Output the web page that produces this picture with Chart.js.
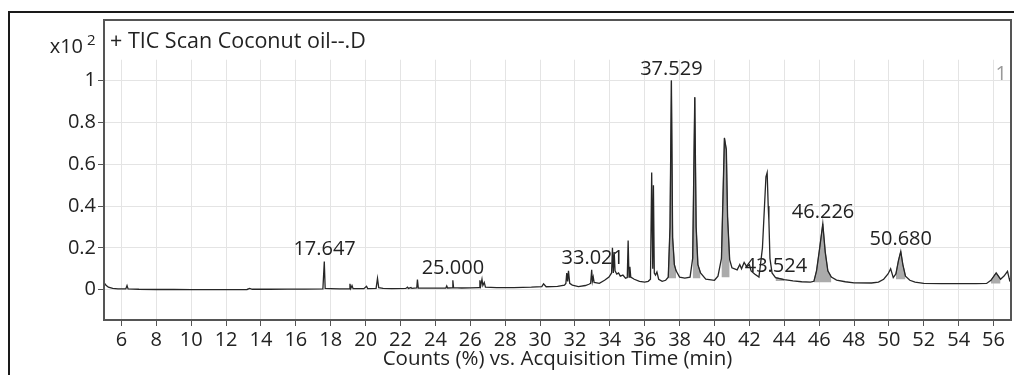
<!DOCTYPE html>
<html>
  <head>
    <meta charset="utf-8" />
    <title>TIC Scan Coconut oil</title>
    <script src="https://cdn.jsdelivr.net/npm/chart.js@4/dist/chart.umd.min.js"></script>
    <style>
      body { margin: 0; background: #fff; }
      #wrap { width: 1014px; height: 375px; }
    </style>
  </head>

  <body>
    <div id="wrap"><canvas id="tic" width="1014" height="375"></canvas></div>

    <script>
      // retention time (min)
      var times = [
        5.0, 5.1, 5.25, 5.5, 5.8, 6.25, 6.32, 6.38, 7.0, 8.0, 9.0, 10.0, 11.0, 12.0,
        13.2, 13.35, 13.5, 14.5, 15.5, 16.5, 17.55, 17.63, 17.68, 18.0, 18.5,
        19.05, 19.1, 19.15, 19.22, 19.28, 19.9, 20.05, 20.12, 20.6, 20.68, 20.75,
        21.0, 21.5, 22.3, 22.4, 22.45, 22.6, 22.65, 22.93, 22.97, 23.02, 23.5,
        24.0, 24.6, 24.65, 24.7, 24.97, 25.0, 25.04, 25.5, 26.0, 26.5, 26.55,
        26.6, 26.67, 26.72, 26.8, 26.87, 27.5, 28.5, 29.5, 30.1, 30.2, 30.35,
        31.0, 31.4, 31.48, 31.53, 31.58, 31.63, 31.7, 31.85, 32.2, 32.6, 32.8,
        32.9, 32.96, 33.0, 33.05, 33.1, 33.4, 33.7, 33.95, 34.1, 34.15, 34.2,
        34.25, 34.3, 34.4, 34.5, 34.6, 34.75, 34.9, 35.0, 35.05, 35.1, 35.15,
        35.2, 35.4, 35.7, 36.0, 36.2, 36.33, 36.4, 36.46, 36.5, 36.55, 36.62,
        36.7, 36.8, 37.0, 37.2, 37.35, 37.45, 37.53, 37.6, 37.7, 37.8, 38.0,
        38.3, 38.6, 38.75, 38.87, 38.95, 39.05, 39.2, 39.5, 40.0, 40.2, 40.4,
        40.57, 40.62, 40.68, 40.75, 40.87, 41.0, 41.3, 41.45, 41.55, 41.7, 41.85,
        42.0, 42.1, 42.3, 42.55, 42.75, 42.95, 43.02, 43.08, 43.12, 43.18, 43.3,
        43.5, 44.0, 44.5, 45.0, 45.5, 45.7, 45.85, 46.0, 46.21, 46.35, 46.5,
        46.7, 47.0, 47.5, 48.0, 49.0, 49.4, 49.7, 49.95, 50.1, 50.25, 50.4,
        50.55, 50.68, 50.8, 50.95, 51.2, 51.5, 52.0, 53.0, 54.0, 55.0, 55.6,
        55.85, 56.15, 56.4, 56.6, 56.8, 56.92, 57.0
      ];
      // counts (%) x10^2
      var counts = [
        0.035, 0.022, 0.012, 0.006, 0.004, 0.004, 0.02, 0.004, 0.002, 0.001, 0.001, 0.0, 0.0, 0.0,
        0.001, 0.006, 0.002, 0.002, 0.003, 0.003, 0.004, 0.135, 0.006, 0.005, 0.004,
        0.004, 0.028, 0.006, 0.02, 0.005, 0.005, 0.016, 0.005, 0.006, 0.054, 0.01,
        0.006, 0.005, 0.006, 0.012, 0.006, 0.01, 0.006, 0.008, 0.048, 0.008, 0.007,
        0.007, 0.008, 0.018, 0.008, 0.009, 0.045, 0.01, 0.008, 0.009, 0.01, 0.045,
        0.02, 0.05, 0.02, 0.035, 0.012, 0.01, 0.01, 0.012, 0.015, 0.028, 0.014,
        0.016, 0.022, 0.03, 0.08, 0.04, 0.09, 0.03, 0.022, 0.015, 0.02, 0.026,
        0.03, 0.095, 0.04, 0.06, 0.035, 0.03, 0.045, 0.06, 0.08, 0.2, 0.08,
        0.18, 0.09, 0.075, 0.08, 0.065, 0.07, 0.055, 0.058, 0.235, 0.06, 0.11,
        0.06, 0.05, 0.04, 0.036, 0.04, 0.05, 0.56, 0.1, 0.5, 0.08, 0.07,
        0.085, 0.05, 0.04, 0.045, 0.06, 0.3, 1.0, 0.25, 0.12, 0.09, 0.06,
        0.055, 0.06, 0.15, 0.92, 0.3, 0.12, 0.08, 0.05, 0.045, 0.065, 0.15,
        0.726, 0.7, 0.67, 0.35, 0.144, 0.105, 0.095, 0.12, 0.1, 0.13, 0.11,
        0.12, 0.09, 0.075, 0.06, 0.2, 0.54, 0.56, 0.4, 0.33, 0.15, 0.08,
        0.058, 0.048, 0.042, 0.038, 0.036, 0.04, 0.09, 0.18, 0.315, 0.18, 0.09,
        0.06, 0.046, 0.038, 0.033, 0.032, 0.036, 0.05, 0.075, 0.1, 0.058, 0.075,
        0.14, 0.183, 0.12, 0.065, 0.045, 0.036, 0.03, 0.029, 0.029, 0.029, 0.03,
        0.045, 0.08, 0.05, 0.065, 0.088, 0.045, 0.06
      ];

      // integrated peaks: start, end, baseline level
      var fillStart = [37.35, 38.7, 40.3, 43.4, 45.6, 50.3, 55.7];
      var fillEnd = [37.9, 39.2, 40.9, 44.2, 46.8, 51.0, 56.4];
      var fillBase = [0.055, 0.055, 0.06, 0.042, 0.035, 0.05, 0.03];

      // labelled peaks
      var peakLabels = ["17.647", "25.000", "33.021", "37.529", "43.524", "46.226", "50.680"];

      var xTicks = [6, 8, 10, 12, 14, 16, 18, 20, 22, 24, 26, 28, 30, 32, 34, 36, 38, 40, 42, 44, 46, 48, 50, 52, 54, 56];
      var yTicks = [0, 0.2, 0.4, 0.6, 0.8, 1];

      var FONT = "'Open Sans', 'Liberation Sans', sans-serif";

      var trace = times.map(function (t, i) {
        return { x: t, y: counts[i] };
      });

      var datasets = [
        {
          label: "TIC",
          data: trace,
          borderColor: "#262626",
          borderWidth: 1.3,
          pointRadius: 0,
          tension: 0,
          fill: false,
          order: 0,
        },
      ];

      for (var k = 0; k < fillStart.length; k++) {
        var part = trace.filter(function (p) {
          return p.x >= fillStart[k] && p.x <= fillEnd[k];
        });
        datasets.push({
          label: "peak" + k,
          data: part,
          borderColor: "#555",
          borderWidth: 0.8,
          backgroundColor: "#ababab",
          pointRadius: 0,
          tension: 0,
          fill: { value: fillBase[k] },
          order: 1,
        });
      }

      var decor = {
        id: "decor",
        beforeDatasetsDraw: function (chart) {
          // no grid in the header strip
          var ctx = chart.ctx;
          var a = chart.chartArea;
          var yTop = chart.scales.y.getPixelForValue(1.1);
          ctx.save();
          ctx.fillStyle = "#fff";
          ctx.fillRect(a.left + 1, a.top, a.right - a.left - 2, yTop - a.top);
          ctx.restore();
        },
        afterDraw: function (chart) {
          var ctx = chart.ctx;
          var a = chart.chartArea;
          var xs = chart.scales.x;
          var ys = chart.scales.y;
          ctx.save();

          // outer frame
          ctx.strokeStyle = "#1a1a1a";
          ctx.lineWidth = 2;
          ctx.beginPath();
          ctx.moveTo(9, 375);
          ctx.lineTo(9, 12);
          ctx.lineTo(1014, 12);
          ctx.stroke();

          // plot frame
          ctx.strokeStyle = "#555";
          ctx.lineWidth = 2;
          ctx.strokeRect(a.left, a.top, a.right - a.left, a.bottom - a.top);

          ctx.fillStyle = "#222";
          ctx.textBaseline = "alphabetic";

          // header
          ctx.font = "21.5px " + FONT;
          ctx.textAlign = "left";
          ctx.fillText("+ TIC Scan Coconut oil--.D", a.left + 6, 48);

          ctx.font = "20px " + FONT;
          ctx.textAlign = "right";
          ctx.fillText("x10", 83, 53);
          ctx.font = "15px " + FONT;
          ctx.textAlign = "left";
          ctx.fillText("2", 87, 45);

          ctx.font = "20px " + FONT;
          ctx.fillStyle = "#999";
          ctx.textAlign = "right";
          ctx.fillText("1", 1007, 80);

          // peak labels above the peak tops
          ctx.fillStyle = "#222";
          ctx.textAlign = "center";
          peakLabels.forEach(function (lab) {
            var t = parseFloat(lab);
            var top = 0;
            for (var i = 0; i < times.length; i++) {
              if (Math.abs(times[i] - t) <= 0.08 && counts[i] > top) top = counts[i];
            }
            ctx.fillText(lab, xs.getPixelForValue(t), ys.getPixelForValue(top) - 6);
          });

          ctx.restore();
        },
      };

      var chart = new Chart(document.getElementById("tic"), {
        type: "line",
        data: { datasets: datasets },
        options: {
          responsive: false,
          animation: false,
          devicePixelRatio: 1,
          layout: { padding: { top: 20, right: 3, left: 0, bottom: 0 } },
          plugins: { legend: { display: false }, tooltip: { enabled: false } },
          scales: {
            x: {
              type: "linear",
              min: 5,
              max: 57,
              afterBuildTicks: function (scale) {
                scale.ticks = xTicks.map(function (v) { return { value: v }; });
              },
              afterFit: function (scale) { scale.height = 55; },
              grid: { color: "#e4e4e4", tickColor: "#555", tickLength: 6 },
              border: { display: true, color: "#555", width: 2 },
              ticks: {
                padding: 2,
                maxRotation: 0,
                autoSkip: false,
                color: "#222",
                font: { family: FONT, size: 20 },
              },
              title: {
                display: true,
                text: "Counts (%) vs. Acquisition Time (min)",
                color: "#222",
                font: { family: FONT, size: 20.5 },
                padding: { top: 0, bottom: 4 },
              },
            },
            y: {
              type: "linear",
              min: -0.145,
              max: 1.29,
              afterBuildTicks: function (scale) {
                scale.ticks = yTicks.map(function (v) { return { value: v }; });
              },
              afterFit: function (scale) { scale.width = 104; },
              grid: { color: "#e4e4e4", tickColor: "#555", tickLength: 6 },
              border: { display: true, color: "#555", width: 2 },
              ticks: {
                padding: 2,
                color: "#222",
                font: { family: FONT, size: 20 },
                callback: function (v) { return String(+(+v).toFixed(1)); },
              },
            },
          },
        },
        plugins: [decor],
      });
    </script>
  </body>
</html>
